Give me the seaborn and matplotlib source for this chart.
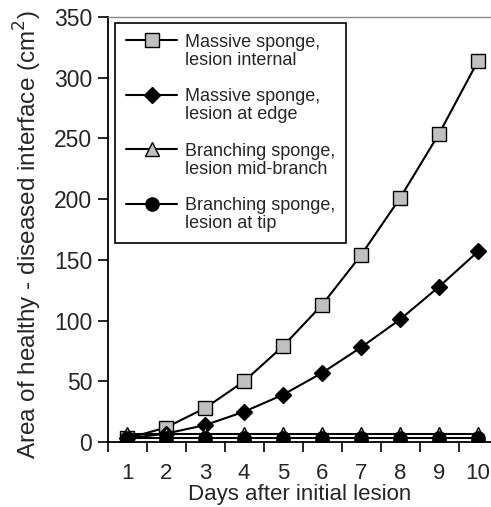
import matplotlib
matplotlib.use("Agg")
import matplotlib.pyplot as plt
from matplotlib.legend_handler import HandlerLine2D
import seaborn as sns
import numpy as np

days = [1, 2, 3, 4, 5, 6, 7, 8, 9, 10]
massive_internal = [3, 12, 28, 50, 79, 113, 154, 201, 254, 314]
massive_edge = [3, 7, 14, 25, 39, 57, 78, 101, 128, 157]
branching_mid = [7, 7, 7, 7, 7, 7, 7, 7, 7, 7]
branching_tip = [3, 3, 3, 3, 3, 3, 3, 3, 3, 3]
labels = ["Massive sponge,\nlesion internal", "Massive sponge,\nlesion at edge",
          "Branching sponge,\nlesion mid-branch", "Branching sponge,\nlesion at tip"]
yticks = [0, 50, 100, 150, 200, 250, 300, 350]

sns.set_style("ticks")
plt.rcParams['font.family'] = ['Liberation Sans', 'DejaVu Sans']

fig = plt.figure(figsize=(4.91, 5.07), dpi=100)
ax = fig.add_axes([0.219, 0.128, 0.781, 0.8385])

styles = [
    dict(marker='s', markersize=10.5, markerfacecolor='#c0c0c0'),
    dict(marker='D', markersize=8, markerfacecolor='black'),
    dict(marker='^', markersize=10, markerfacecolor='#c0c0c0'),
    dict(marker='o', markersize=9.5, markerfacecolor='black'),
]
series = [massive_internal, massive_edge, branching_mid, branching_tip]
for vals, lab, st in zip(series, labels, styles):
    sns.lineplot(x=days, y=vals, ax=ax, color='black', linewidth=1.5,
                 markeredgecolor='black', markeredgewidth=1.0, label=lab, **st)

ax.set_xlim(0.5, 10.33)
ax.set_ylim(0, 350)
ax.set_yticks(yticks)
ax.set_xticks(days)
ax.set_xticks(np.arange(0.5, 10.5, 1.0), minor=True)
ax.tick_params(axis='x', which='major', length=0, labelsize=16, pad=15)
ax.tick_params(axis='x', which='minor', length=7, width=1.2, color='black', direction='out')
ax.tick_params(axis='y', length=7, width=1.2, labelsize=16.5, color='black', direction='out', pad=4)

ax.spines['right'].set_visible(False)
ax.spines['top'].set_visible(True)
ax.spines['top'].set_color('#888888')
ax.spines['top'].set_linewidth(1.0)
for s in ('left', 'bottom'):
    ax.spines[s].set_linewidth(1.3)
    ax.spines[s].set_color('black')

ax.set_xlabel("Days after initial lesion", fontsize=16, labelpad=0)
ax.set_ylabel("Area of healthy - diseased interface (cm$^2$)", fontsize=17.5)
ax.yaxis.set_label_coords(-0.166, 0.489)


class UpHandler(HandlerLine2D):
    def __init__(self, off, **kw):
        super().__init__(**kw)
        self.off = off

    def create_artists(self, legend, orig_handle, xdescent, ydescent, width, height, fontsize, trans):
        return super().create_artists(legend, orig_handle, xdescent, ydescent, width,
                                      height + 2 * self.off, fontsize, trans)


handles, labs = ax.get_legend_handles_labels()
fs = 13
leg = ax.legend(handles, labs, loc='upper left', bbox_to_anchor=(0.2342, 0.9546),
                bbox_transform=fig.transFigure,
                fontsize=fs, frameon=True, fancybox=False, edgecolor='black',
                handlelength=2.85, labelspacing=1.1, borderpad=0.6, handletextpad=0.45,
                borderaxespad=0,
                handler_map={h: UpHandler(off=fs * 0.62) for h in handles})
for t in leg.get_texts():
    t.set_linespacing(1.05)
leg.get_frame().set_linewidth(1.2)
leg.get_frame().set_alpha(1)

fig.savefig("out.png", dpi=100)
